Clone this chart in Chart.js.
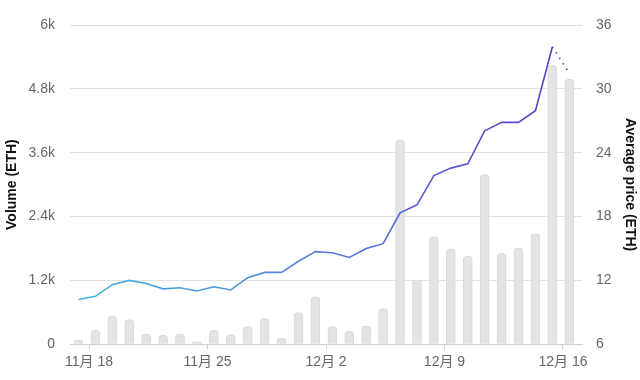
<!DOCTYPE html>
<html>
<head>
<meta charset="utf-8">
<script src="https://cdn.jsdelivr.net/npm/chart.js@4/dist/chart.umd.min.js"></script>
<style>
html,body{margin:0;padding:0;background:#fff;}
#wrap{width:640px;height:380px;}
</style>
</head>
<body>
<div id="wrap"><canvas id="c" width="640" height="380"></canvas></div>
<script>
// Dates (day index 0 = 11/17), one bar per day
const dates = ['11-17','11-18','11-19','11-20','11-21','11-22','11-23','11-24','11-25','11-26',
  '11-27','11-28','11-29','11-30','12-01','12-02','12-03','12-04','12-05','12-06',
  '12-07','12-08','12-09','12-10','12-11','12-12','12-13','12-14','12-15','12-16'];
const volume = [75,260,530,465,195,165,195,45,260,180,
  330,480,110,595,890,330,240,345,670,3840,
  1210,2025,1795,1655,3190,1705,1805,2075,5240,4980];
const avgPrice = [10.2,10.5,11.6,12.0,11.7,11.2,11.3,11.0,11.4,11.1,
  12.25,12.75,12.75,13.8,14.7,14.6,14.15,15.0,15.45,18.35,
  19.1,21.85,22.55,22.95,26.05,26.85,26.85,27.95,33.95,31.45];
const xTickDays = [1,8,15,22,29];
const xTickLabels = ['11月 18','11月 25','12月 2','12月 9','12月 16'];
const volTicks = [0,1200,2400,3600,4800,6000];
const priceTicks = [6,12,18,24,30,36];

const TZ_SHIFT = 0.375; // data points sit at 09:00 local time
const xs = dates.map((d,i)=>i);
const tickPos = xTickDays.map(d=>d - TZ_SHIFT);

const FONT = "'Liberation Sans','Noto Sans CJK JP',Arial,sans-serif";
const last = avgPrice.length - 1;

function lineGradient(ctx){
  const ch = ctx.chart;
  const a = ch.chartArea;
  if(!a) return '#5a6ad8';
  const g = ch.ctx.createLinearGradient(a.left,0,a.right,0);
  g.addColorStop(0,'#40b8e3');
  g.addColorStop(0.45,'#5584dc');
  g.addColorStop(0.75,'#5a55d4');
  g.addColorStop(1,'#5a3acb');
  return g;
}

new Chart(document.getElementById('c'),{
  data:{
    datasets:[
      {
        type:'line',
        label:'Average price (ETH)',
        data: xs.map((x,i)=>({x:x,y:avgPrice[i]})),
        yAxisID:'yPrice',
        borderColor: lineGradient,
        borderWidth:1.6,
        pointRadius:0,
        tension:0,
        fill:false,
        order:0,
        segment:{
          borderDash: c => c.p1DataIndex === last ? [1.5,5] : undefined
        }
      },
      {
        type:'bar',
        label:'Volume (ETH)',
        data: xs.map((x,i)=>({x:x,y:volume[i]})),
        yAxisID:'yVol',
        backgroundColor:'#e4e4e4',
        borderColor:'#d9d9d9',
        borderWidth:1,
        borderSkipped:'bottom',
        borderRadius:{topLeft:4,topRight:4,bottomLeft:0,bottomRight:0},
        barThickness:9,
        order:1
      }
    ]
  },
  options:{
    responsive:false,
    animation:false,
    layout:{padding:{top:25,left:4,right:0,bottom:4}},
    plugins:{legend:{display:false},tooltip:{enabled:false}},
    scales:{
      x:{
        type:'linear',
        offset:false,
        min:-0.5,
        max:29.75,
        afterBuildTicks: ax => { ax.ticks = tickPos.map(v=>({value:v})); },
        ticks:{
          autoSkip:false,
          maxRotation:0,
          padding:5,
          color:'#666',
          font:{family:FONT,size:14},
          callback:(v)=>{ const k = tickPos.indexOf(v); return k>=0 ? xTickLabels[k] : ''; }
        },
        grid:{display:true,offset:false,drawOnChartArea:false,drawTicks:true,tickLength:5,color:'#cfcfcf'},
        border:{display:true,color:'#cfcfcf'}
      },
      yVol:{
        type:'linear',
        position:'left',
        min:0,
        max:6000,
        afterBuildTicks: ax => { ax.ticks = volTicks.map(v=>({value:v})); },
        afterFit: ax => { ax.width = 66; },
        ticks:{
          padding:15,
          color:'#666',
          font:{family:FONT,size:14},
          callback:(v)=> v===0 ? '0' : (v/1000)+'k'
        },
        grid:{color:'#e2e2e2',drawTicks:false,lineWidth:1},
        border:{display:false},
        title:{display:true,text:'Volume (ETH)',color:'#111',font:{family:FONT,size:14,weight:'bold'},padding:{top:0,bottom:4}}
      },
      yPrice:{
        type:'linear',
        position:'right',
        min:6,
        max:36,
        afterBuildTicks: ax => { ax.ticks = priceTicks.map(v=>({value:v})); },
        afterFit: ax => { ax.width = 58; },
        ticks:{
          padding:14,
          color:'#666',
          font:{family:FONT,size:14}
        },
        grid:{drawOnChartArea:false,drawTicks:false},
        border:{display:false},
        title:{display:true,text:'Average price (ETH)',color:'#111',font:{family:FONT,size:14,weight:'bold'},padding:{top:2,bottom:4}}
      }
    }
  }
});
</script>
</body>
</html>
